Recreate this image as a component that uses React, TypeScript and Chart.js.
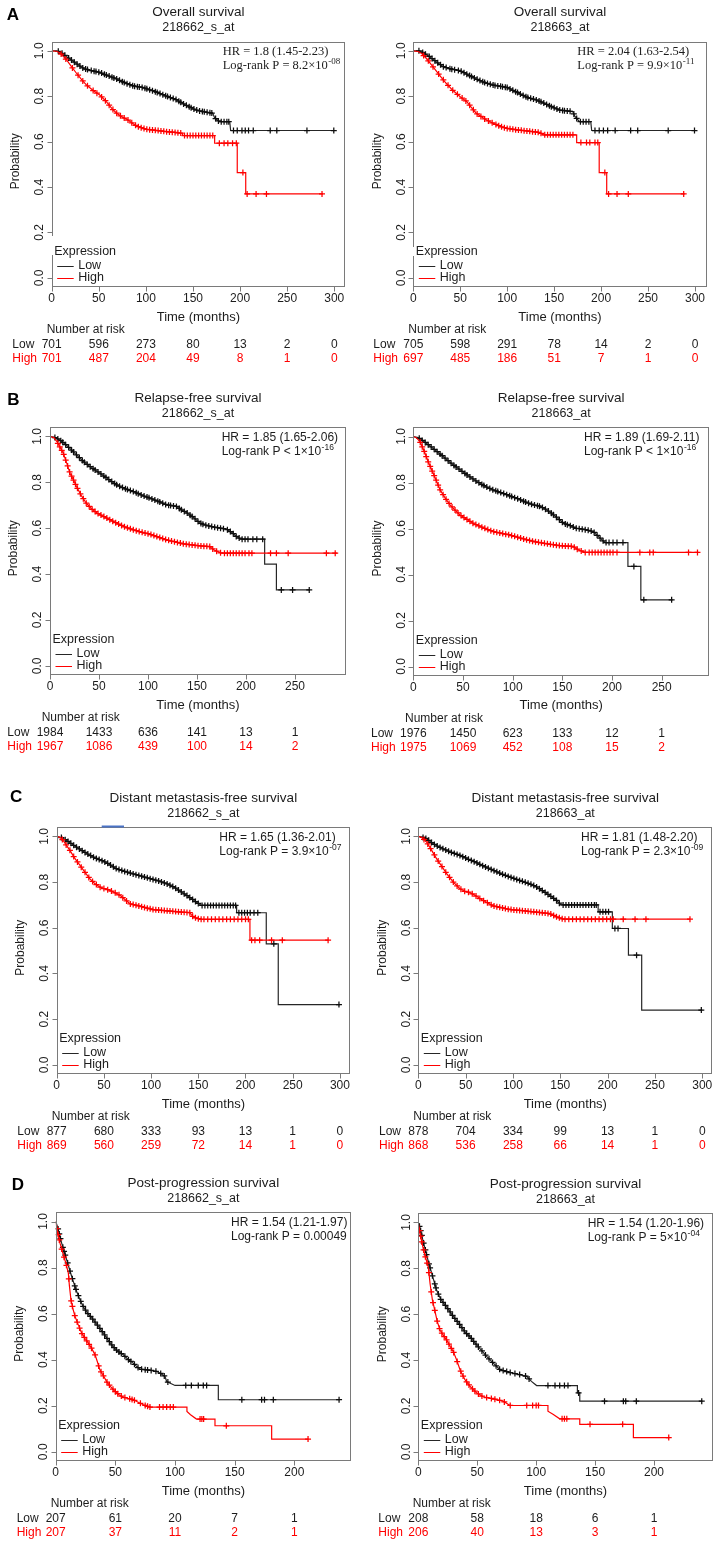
import React, { useEffect, useRef } from "react";
import { Chart, registerables } from "chart.js";

Chart.register(...registerables);

const SANS = '"Liberation Sans", Arial, Helvetica, sans-serif';
const SERIF = '"Liberation Serif", "Times New Roman", Times, serif';
const LOW_LINE = "#262626";
const LOW_MARK = "#0d0d0d";
const HIGH_COL = "#ff0000";
const AXIS_COL = "#7a7a7a";
const TEXT_COL = "#1c1c1c";

// ---------- axis / table labels ----------
const yTickValues = [0, 0.2, 0.4, 0.6, 0.8, 1.0];
const yTickLabels = ["0.0", "0.2", "0.4", "0.6", "0.8", "1.0"];
const xTicks300 = [0, 50, 100, 150, 200, 250, 300];
const xTicks250 = [0, 50, 100, 150, 200, 250];
const xTicks200 = [0, 50, 100, 150, 200];
const groupLabels = ["Low", "High"];

// ---------- number at risk ----------
const os1RiskLow = [701, 596, 273, 80, 13, 2, 0];
const os1RiskHigh = [701, 487, 204, 49, 8, 1, 0];
const os2RiskLow = [705, 598, 291, 78, 14, 2, 0];
const os2RiskHigh = [697, 485, 186, 51, 7, 1, 0];
const rfs1RiskLow = [1984, 1433, 636, 141, 13, 1];
const rfs1RiskHigh = [1967, 1086, 439, 100, 14, 2];
const rfs2RiskLow = [1976, 1450, 623, 133, 12, 1];
const rfs2RiskHigh = [1975, 1069, 452, 108, 15, 2];
const dmfs1RiskLow = [877, 680, 333, 93, 13, 1, 0];
const dmfs1RiskHigh = [869, 560, 259, 72, 14, 1, 0];
const dmfs2RiskLow = [878, 704, 334, 99, 13, 1, 0];
const dmfs2RiskHigh = [868, 536, 258, 66, 14, 1, 0];
const pps1RiskLow = [207, 61, 20, 7, 1];
const pps1RiskHigh = [207, 37, 11, 2, 1];
const pps2RiskLow = [208, 58, 18, 6, 1];
const pps2RiskHigh = [206, 40, 13, 3, 1];

// ---------- survival curves [months, probability] ----------
const os1Low = [[0,1],[5,1],[9,0.995],[16,0.974],[26,0.944],[34,0.922],[42,0.913],[51,0.905],[60,0.89],[69,0.876],[78,0.858],[87,0.845],[97,0.838],[110,0.82],[122,0.8],[132,0.785],[140,0.766],[150,0.745],[157,0.735],[171,0.725],[173,0.705],[178,0.688],[189,0.688],[190,0.649],[300,0.649]];
const os1LowCens = [7,11,14,18,21,24,27,30,33,36,38,42,45,47,50,53,56,58,61,64,66,69,72,75,77,80,83,86,88,91,93,96,99,101,104,107,110,112,115,118,121,123,126,129,132,135,137,140,143,146,148,151,154,157,160,162,165,168,170,174,177,180,183,186,188,193,197,202,205.5,209,214,232,239,271,299.5];
const os1High = [[0,1],[5,0.998],[9,0.99],[16,0.959],[21,0.93],[26.5,0.9],[32,0.872],[37,0.849],[44,0.825],[51,0.805],[58,0.776],[64,0.745],[69,0.725],[75,0.708],[80,0.698],[86,0.68],[90,0.669],[96,0.66],[101,0.654],[110,0.65],[122,0.644],[139,0.637],[139,0.627],[173,0.627],[173,0.593],[197,0.593],[197,0.464],[206,0.464],[206,0.37],[288,0.37]];
const os1HighCens = [10,15,22,28,33,38,44,48,53,57,61,65,69,73,77,81,85,89,92,95,98,101,104,107,110,113,116,119,122,125,128,131,134,137,141,144,147,150,153,156,159,162,165,168,171,178,183,187,192,196,203,207.5,217,228,287];

const os2Low = [[0,1],[6,1],[10,0.993],[17,0.975],[25,0.95],[32,0.93],[40,0.92],[50,0.912],[58,0.895],[67,0.876],[76,0.86],[85,0.849],[95,0.842],[100,0.838],[110,0.818],[121,0.795],[130,0.785],[138,0.772],[148,0.752],[156,0.739],[170,0.732],[172,0.712],[177,0.688],[189,0.688],[190,0.649],[300,0.649]];
const os2LowCens = [6,10,13,17,20,23,26,29,32,35,39,41,44,48,51,54,57,60,62,65,68,71,74,76,79,82,85,87,90,93,95,98,100,103,106,109,111,114,117,120,122,125,128,131,134,136,139,142,145,147,150,153,156,159,161,164,167,171,174,178,181,184,187,193.5,198,202.5,207,215,231.5,239,271.5,299.5];
const os2High = [[0,1],[5,0.997],[9,0.988],[14,0.966],[20,0.935],[25,0.908],[30,0.882],[35,0.857],[42,0.826],[50,0.798],[57,0.776],[62,0.75],[67,0.725],[73,0.708],[78,0.695],[84,0.683],[89,0.674],[94,0.665],[99,0.659],[110,0.652],[121,0.647],[135,0.64],[138,0.63],[174,0.63],[174,0.596],[198,0.596],[198,0.464],[206,0.464],[206,0.37],[289,0.37]];
const os2HighCens = [11,16,21,27,32,37,42,47,52,56,60,64,68,72,76,80,84,88,91,94,97,100,103,106,109,112,115,118,121,124,127,130,133,136,140,143,146,149,152,155,158,161,164,167,170,178.5,184.5,188,193.5,196.5,204,208,217,229,288];

const rfs1Low = [[0,1],[4,0.997],[10,0.985],[15,0.968],[20,0.949],[27,0.92],[34,0.891],[42,0.865],[51,0.84],[60,0.812],[68,0.789],[76,0.773],[85,0.76],[93,0.745],[102,0.731],[110,0.718],[119,0.702],[129,0.695],[134,0.68],[140,0.666],[147,0.645],[153,0.622],[160,0.612],[167,0.605],[180,0.596],[186,0.58],[190,0.564],[195,0.552],[219,0.552],[219,0.443],[231,0.443],[231,0.331],[265,0.331]];
const rfs1LowCens = [5,8,11,13,16,19,22,24,27,30,33,35,38,41,44,46,49,52,55,57,60,63,66,68,71,74,77,79,82,85,88,90,93,96,99,101,104,107,110,112,115,118,121,123,126,129,132,134,137,140,143,145,148,151,154,156,159,162,165,168,171,174,177,181,184,187,190,193,196,199,202,207,211,217,236,247.5,264.5];
const rfs1High = [[0,1],[4,0.995],[7,0.978],[10,0.955],[13.6,0.927],[17,0.885],[20.4,0.84],[24,0.81],[27,0.782],[32,0.742],[37,0.709],[42,0.686],[48,0.666],[53,0.655],[58,0.644],[63,0.633],[68,0.622],[76,0.606],[85,0.593],[93,0.583],[102,0.574],[110,0.562],[119,0.549],[128,0.54],[136,0.532],[145,0.527],[153,0.523],[163,0.52],[167,0.506],[171,0.498],[175,0.491],[293,0.491]];
const rfs1HighCens = [8,10,12,14,16,18,20,22,24,26,28,31,34,37,40,43,46,49,52,55,58,61,64,67,70,73,76,79,82,85,88,91,94,97,100,103,106,109,112,115,118,121,124,127,130,133,136,139,142,145,148,151,154,157,160,163,166,170,174,178,181,184,187,190,193,196,199,203,206,225,231,243,282,291];

const rfs2Low = [[0,1],[5,0.995],[13,0.971],[20,0.948],[30,0.913],[38,0.884],[47,0.855],[55,0.83],[64,0.804],[72,0.784],[80,0.768],[89,0.755],[97,0.742],[106,0.728],[114,0.713],[121,0.703],[128,0.696],[133,0.684],[138,0.67],[145,0.646],[151,0.623],[158,0.612],[164,0.601],[172,0.596],[181,0.587],[188,0.558],[193,0.539],[216,0.539],[216,0.435],[229,0.435],[229,0.29],[261,0.29]];
const rfs2LowCens = [6,9,12,15,18,21,24,27,29,32,35,38,41,43,46,49,52,54,57,60,63,66,69,71,74,77,80,83,85,88,91,94,97,99,102,105,108,111,113,116,119,122,125,127,130,133,136,139,141,144,147,150,153,155,158,161,164,167,170,173,176,179,182,185,188,191,194,197,201,205,211,222,232,260];
const rfs2High = [[0,1],[3,0.995],[6.7,0.978],[9,0.955],[11.7,0.928],[15,0.89],[18.5,0.855],[23,0.81],[27,0.768],[32,0.733],[37,0.703],[42,0.68],[47,0.659],[53,0.642],[60,0.623],[70,0.604],[80,0.587],[89,0.579],[97,0.572],[106,0.561],[114,0.551],[122,0.543],[131,0.536],[140,0.53],[148,0.525],[161,0.522],[166,0.507],[173,0.496],[287,0.496]];
const rfs2HighCens = [7,9,11,13,15,17,19,21,23,25,27,30,33,36,39,42,45,48,51,54,57,60,63,66,69,72,75,78,81,84,87,90,93,96,99,102,105,108,111,114,117,120,123,126,129,132,135,138,141,144,147,150,153,156,159,162,165,169,173,177,180,183,186,189,192,195,198,201,205,228,238,241.5,277,286];

const dmfs1Low = [[0,1],[5,0.995],[10.6,0.982],[16,0.967],[21,0.953],[30,0.93],[39,0.909],[46,0.897],[53,0.885],[58,0.872],[63.5,0.858],[72,0.847],[81,0.836],[90,0.826],[99,0.815],[108,0.805],[116.5,0.793],[122,0.783],[127,0.771],[132,0.757],[137.6,0.742],[143,0.727],[148,0.712],[153.5,0.698],[190.6,0.698],[190.6,0.666],[222,0.666],[222,0.53],[234.7,0.53],[234.7,0.264],[300,0.264]];
const dmfs1LowCens = [5,9,12,15,18,21,24,27,30,33,36,39,42,45,48,51,54,57,60,63,66,69,72,75,78,81,84,87,90,93,96,99,102,105,108,111,114,117,120,123,126,129,132,135,138,141,144,147,150,154,157,160,163,166,169,172,175,178,181,184,187,189.5,193,196,199,202,205,209,213,230,299];
const dmfs1High = [[0,1],[4,0.995],[7,0.982],[10,0.963],[14,0.939],[19,0.905],[24.7,0.873],[30,0.843],[35,0.815],[40,0.795],[46,0.778],[51,0.77],[56.5,0.764],[62,0.753],[67,0.742],[72,0.725],[77.6,0.705],[88,0.695],[95,0.687],[102,0.68],[112,0.676],[123.5,0.672],[141,0.666],[144.7,0.647],[150,0.64],[153.5,0.637],[204.7,0.637],[204.7,0.546],[287.6,0.546]];
const dmfs1HighCens = [6,10,14,18,22,26,30,34,38,42,46,50,54,58,62,66,70,74,78,81,84,87,90,93,96,99,102,105,108,111,114,117,120,123,126,129,132,135,138,141,144,147,150,153,156,160,164,168,172,176,180,184,188,192,196,200,203,206.5,210,215,227.6,239,287.5];

const dmfs2Low = [[0,1],[4,0.997],[8.8,0.99],[15,0.97],[20,0.958],[26,0.946],[35,0.93],[44,0.917],[53,0.9],[61.6,0.885],[70,0.868],[79,0.852],[88,0.836],[97,0.822],[105,0.81],[114,0.798],[120,0.789],[125,0.779],[130,0.766],[135.6,0.75],[141,0.735],[146,0.72],[151,0.7],[190,0.7],[190,0.67],[205,0.67],[205,0.597],[222,0.597],[222,0.48],[236,0.48],[236,0.24],[300,0.24]];
const dmfs2LowCens = [5,8,11,14,17,20,23,26,29,32,35,38,41,44,47,50,53,56,59,62,65,68,71,74,77,80,83,86,89,92,95,98,101,104,107,110,113,116,119,122,125,128,131,134,137,140,143,146,149,153,156,159,162,165,168,171,174,177,180,183,186,188,192,195,198,201,207.7,211,230.6,299];
const dmfs2High = [[0,1],[4,0.995],[8.8,0.975],[14,0.94],[19.4,0.902],[25,0.868],[30,0.837],[37,0.8],[44,0.771],[49,0.76],[54.6,0.754],[60,0.742],[65,0.728],[72,0.712],[79,0.696],[88,0.688],[97,0.68],[110,0.675],[121.5,0.67],[139,0.662],[146,0.648],[153,0.638],[287,0.638]];
const dmfs2HighCens = [6,10,13,17,21,25,29,33,37,41,45,49,53,57,61,65,69,73,77,80,83,86,89,92,95,98,101,104,107,110,113,116,119,122,125,128,131,134,137,140,143,146,149,152,155,159,163,167,171,175,179,183,187,191,195,199,203,206,216.5,229,240.5,287];

const pps1Low = [[0,1],[1,0.985],[2.2,0.964],[3.5,0.935],[5,0.906],[7,0.87],[9.2,0.834],[11.3,0.797],[13.4,0.761],[15.5,0.728],[17.6,0.696],[20,0.665],[23,0.631],[27,0.6],[31.6,0.573],[36,0.543],[40,0.515],[44,0.485],[48,0.457],[52,0.437],[56.7,0.421],[61,0.4],[65,0.385],[68,0.37],[70.7,0.359],[78,0.355],[84.6,0.349],[88,0.34],[91.6,0.327],[93,0.305],[100,0.288],[136.3,0.288],[136.3,0.226],[238,0.226]];
const pps1LowCens = [2,3,4,6,7,8,10,12,14,16,17,19,21,23,25,27,29,31,33,35,37,39,41,43,45,47,49,51,53,55,58,61,63,66,69,72,75,77,80,84,88,91,94,109,113.7,119.5,123.7,126.5,156,172.6,175,182.4,237.5];
const pps1High = [[0,1],[1.4,0.957],[3.6,0.906],[6.4,0.855],[8.5,0.82],[10.6,0.776],[11.5,0.72],[12.8,0.66],[14.5,0.62],[16.2,0.588],[19,0.55],[21.8,0.515],[24.5,0.493],[27.4,0.472],[30,0.45],[33,0.421],[35,0.39],[37,0.356],[40,0.33],[42.7,0.305],[46,0.283],[49.7,0.262],[53,0.248],[56.7,0.237],[65,0.226],[70,0.213],[73.5,0.204],[79,0.194],[110,0.194],[110,0.175],[113,0.161],[118,0.142],[133.5,0.142],[133.5,0.113],[181,0.113],[181,0.055],[211.7,0.055]];
const pps1HighCens = [1,2,3,5,7,9,11,13,14,16,18,20,22,24,26,28,30,33,36,38,40,43,45,48,50,52,55,58,62,64,66,71,75,77,79,87,90,93,96,98.6,121,122.5,124,143,211.5];

const pps2Low = [[0,1],[1,0.983],[2.5,0.955],[4,0.92],[5.5,0.89],[7,0.86],[9,0.82],[11,0.785],[13,0.75],[15.6,0.704],[19,0.665],[24,0.632],[29,0.595],[35.4,0.553],[40,0.52],[43.8,0.502],[49.5,0.466],[54,0.44],[58,0.416],[63,0.39],[69.3,0.358],[77.8,0.346],[85,0.338],[92,0.329],[96,0.307],[100.4,0.289],[135,0.289],[135,0.257],[137,0.257],[137,0.221],[241,0.221]];
const pps2LowCens = [1,2,3,4.5,6,7,9,10,12,14,15,17,19,21,23,25,27,29,31,33,35,37,39,41,43,45,47,49,51,54,57,60,63,66,69,72,75,78,82,86,91,94,110,116,120,124,127,136,158,174,176,185,240.5];
const pps2High = [[0,1],[1,0.965],[2.8,0.92],[4,0.89],[5.7,0.856],[8.5,0.805],[10,0.733],[12,0.661],[14,0.617],[16,0.57],[18.4,0.531],[21,0.51],[24,0.488],[27,0.46],[29.7,0.437],[32.5,0.401],[35.4,0.358],[37.5,0.335],[39.6,0.315],[43.8,0.286],[49.5,0.257],[55,0.24],[63.6,0.231],[72,0.221],[77.8,0.202],[110,0.202],[110,0.177],[114.6,0.163],[120,0.144],[137,0.144],[137,0.12],[182.5,0.12],[182.5,0.062],[213,0.062]];
const pps2HighCens = [1,2,3,4.5,6,7.5,9,11,12.5,14,16,18,20,22,24,26,28,30,33,36,38,41,43,46,48,51,54,58,62,65,69,73,78,92,97,100,102,122,124,126,145.7,173.4,212.5];

// ---------- panel set-up (positions in page pixels) ----------
const PANELS = [
  { col: 0, rowTop: 0, rowH: 388, box: { l: 51.7, r: 345, t: 41.7, b: 287 }, xMax: 311.4, xTicks: xTicks300,
    title: "Overall survival", sub: "218662_s_at", hr: "HR = 1.8 (1.45-2.23)", lr: "Log-rank P = 8.2\u00d710", sup: "-08", serif: true,
    hrX: 222.7, riskLabelX: 46.7, groupX: 12.3, letter: { t: "A", x: 6.7, y: 15 }, gap: [236, 255],
    low: os1Low, high: os1High, lowCens: os1LowCens, highCens: os1HighCens, riskLow: os1RiskLow, riskHigh: os1RiskHigh },
  { col: 1, rowTop: 0, rowH: 388, box: { l: 413.3, r: 706.7, t: 41.7, b: 287 }, xMax: 312.5, xTicks: xTicks300,
    title: "Overall survival", sub: "218663_at", hr: "HR = 2.04 (1.63-2.54)", lr: "Log-rank P = 9.9\u00d710", sup: "-11", serif: true,
    hrX: 577.3, riskLabelX: 408.3, groupX: 373.3, letter: null, gap: [247, 256],
    low: os2Low, high: os2High, lowCens: os2LowCens, highCens: os2HighCens, riskLow: os2RiskLow, riskHigh: os2RiskHigh },
  { col: 0, rowTop: 388, rowH: 387, box: { l: 50, r: 346, t: 427.3, b: 675 }, xMax: 302, xTicks: xTicks250,
    title: "Relapse-free survival", sub: "218662_s_at", hr: "HR = 1.85 (1.65-2.06)", lr: "Log-rank P < 1\u00d710", sup: "-16", serif: false,
    hrX: 221.7, riskLabelX: 41.7, groupX: 7.3, letter: { t: "B", x: 7.3, y: 400.7 },
    low: rfs1Low, high: rfs1High, lowCens: rfs1LowCens, highCens: rfs1HighCens, riskLow: rfs1RiskLow, riskHigh: rfs1RiskHigh },
  { col: 1, rowTop: 388, rowH: 387, box: { l: 413.3, r: 709, t: 427.3, b: 675.7 }, xMax: 297.6, xTicks: xTicks250,
    title: "Relapse-free survival", sub: "218663_at", hr: "HR = 1.89 (1.69-2.11)", lr: "Log-rank P < 1\u00d710", sup: "-16", serif: false,
    hrX: 584, riskLabelX: 405, groupX: 371, letter: null,
    low: rfs2Low, high: rfs2High, lowCens: rfs2LowCens, highCens: rfs2HighCens, riskLow: rfs2RiskLow, riskHigh: rfs2RiskHigh },
  { col: 0, rowTop: 775, rowH: 385, box: { l: 56.7, r: 350, t: 827.3, b: 1074 }, xMax: 310.7, xTicks: xTicks300,
    title: "Distant metastasis-free survival", sub: "218662_s_at", hr: "HR = 1.65 (1.36-2.01)", lr: "Log-rank P = 3.9\u00d710", sup: "-07", serif: false,
    hrX: 219.3, riskLabelX: 51.7, groupX: 17.3, letter: { t: "C", x: 10, y: 797.7 }, blue: { x1: 101.7, x2: 124, y: 826.5 },
    low: dmfs1Low, high: dmfs1High, lowCens: dmfs1LowCens, highCens: dmfs1HighCens, riskLow: dmfs1RiskLow, riskHigh: dmfs1RiskHigh },
  { col: 1, rowTop: 775, rowH: 385, box: { l: 418.3, r: 712.3, t: 827.3, b: 1074 }, xMax: 310.6, xTicks: xTicks300,
    title: "Distant metastasis-free survival", sub: "218663_at", hr: "HR = 1.81 (1.48-2.20)", lr: "Log-rank P = 2.3\u00d710", sup: "-09", serif: false,
    hrX: 581, riskLabelX: 413.3, groupX: 379, letter: null,
    low: dmfs2Low, high: dmfs2High, lowCens: dmfs2LowCens, highCens: dmfs2HighCens, riskLow: dmfs2RiskLow, riskHigh: dmfs2RiskHigh },
  { col: 0, rowTop: 1160, rowH: 387, box: { l: 55.7, r: 351, t: 1212.3, b: 1461 }, xMax: 247.5, xTicks: xTicks200,
    title: "Post-progression survival", sub: "218662_s_at", hr: "HR = 1.54 (1.21-1.97)", lr: "Log-rank P = 0.00049", sup: "", serif: false,
    hrX: 231, riskLabelX: 50.7, groupX: 16.7, letter: { t: "D", x: 11.7, y: 1185 },
    low: pps1Low, high: pps1High, lowCens: pps1LowCens, highCens: pps1HighCens, riskLow: pps1RiskLow, riskHigh: pps1RiskHigh },
  { col: 1, rowTop: 1160, rowH: 387, box: { l: 418.3, r: 712.7, t: 1213.3, b: 1461 }, xMax: 249.8, xTicks: xTicks200,
    title: "Post-progression survival", sub: "218663_at", hr: "HR = 1.54 (1.20-1.96)", lr: "Log-rank P = 5\u00d710", sup: "-04", serif: false,
    hrX: 587.7, riskLabelX: 412.7, groupX: 378.3, letter: null,
    low: pps2Low, high: pps2High, lowCens: pps2LowCens, highCens: pps2HighCens, riskLow: pps2RiskLow, riskHigh: pps2RiskHigh },
];

// place a censoring mark on its curve
function survivalAt(curve: number[][], t: number): number {
  for (let i = 0; i < curve.length - 1; i++) {
    const x0 = curve[i][0], y0 = curve[i][1];
    const x1 = curve[i + 1][0], y1 = curve[i + 1][1];
    if (x1 > x0 && t >= x0 && t <= x1) return y0 + ((y1 - y0) * (t - x0)) / (x1 - x0);
  }
  return curve[curve.length - 1][1];
}

function drawDecor(chart: any, p: any) {
  const ctx = chart.ctx;
  const xs = chart.scales.x;
  const ys = chart.scales.y;
  const { left, right, top, bottom } = chart.chartArea;
  const ox = p.col * 360;
  const oy = p.rowTop;
  const sans = (s: number) => `${s}px ${SANS}`;
  ctx.save();

  // frame + ticks
  const bl = Math.round(left) + 0.5;
  const bt = Math.round(top) + 0.5;
  const br = Math.round(right) - 0.5;
  const bb = Math.round(bottom) - 0.5;
  ctx.strokeStyle = AXIS_COL;
  ctx.lineWidth = 1;
  ctx.strokeRect(bl, bt, br - bl, bb - bt);
  ctx.beginPath();
  p.xTicks.forEach((t: number) => {
    const px = Math.round(xs.getPixelForValue(t)) + 0.5;
    ctx.moveTo(px, bb);
    ctx.lineTo(px, bb + 5);
  });
  yTickValues.forEach((v) => {
    const py = Math.round(ys.getPixelForValue(v)) + 0.5;
    ctx.moveTo(bl, py);
    ctx.lineTo(bl - 5, py);
  });
  ctx.stroke();
  if (p.gap) {
    ctx.fillStyle = "#fff";
    ctx.fillRect(bl - 1, p.gap[0] - oy, 2.5, p.gap[1] - p.gap[0]);
  }

  if (p.blue) {
    ctx.strokeStyle = "#4a73c6";
    ctx.lineWidth = 2;
    ctx.beginPath();
    ctx.moveTo(p.blue.x1 - ox, p.blue.y - oy);
    ctx.lineTo(p.blue.x2 - ox, p.blue.y - oy);
    ctx.stroke();
  }

  ctx.fillStyle = TEXT_COL;
  ctx.textBaseline = "middle";

  // x tick labels
  ctx.font = sans(12);
  ctx.textAlign = "center";
  p.xTicks.forEach((t: number) => {
    ctx.fillText(String(t), xs.getPixelForValue(t), bottom + 12);
  });
  // y tick labels (rotated, R style)
  yTickValues.forEach((v, i) => {
    ctx.save();
    ctx.translate(left - 12, ys.getPixelForValue(v));
    ctx.rotate(-Math.PI / 2);
    ctx.fillText(yTickLabels[i], 0, 0);
    ctx.restore();
  });
  // axis titles
  const cx = (left + right) / 2;
  ctx.font = sans(13);
  ctx.fillText("Time (months)", cx, bottom + 30);
  ctx.save();
  ctx.font = sans(12);
  ctx.translate(left - 36, (top + bottom) / 2 - 3);
  ctx.rotate(-Math.PI / 2);
  ctx.fillText("Probability", 0, 0);
  ctx.restore();

  // main title
  ctx.font = sans(13.5);
  ctx.fillText(p.title, cx, top - 29);
  ctx.font = sans(12.5);
  ctx.fillText(p.sub, cx, top - 14);

  // HR / log-rank
  ctx.textAlign = "left";
  const fam = p.serif ? SERIF : SANS;
  const mainSize = p.serif ? 12.5 : 12;
  ctx.font = `${mainSize}px ${fam}`;
  const hx = p.hrX - ox;
  ctx.fillText(p.hr, hx, top + 10);
  ctx.fillText(p.lr, hx, top + 24);
  if (p.sup) {
    const w = ctx.measureText(p.lr).width;
    ctx.font = `${p.serif ? 9 : 8.5}px ${fam}`;
    ctx.fillText(p.sup, hx + w + 0.5, top + 20);
  }

  // legend
  const lx = left + 2.5;
  ctx.font = sans(12.5);
  ctx.fillText("Expression", lx, bottom - 35);
  ctx.lineWidth = 1;
  [LOW_LINE, HIGH_COL].forEach((col, i) => {
    const y = bottom - 21 + i * 12;
    ctx.strokeStyle = col;
    ctx.beginPath();
    ctx.moveTo(lx + 3, Math.round(y) + 0.5);
    ctx.lineTo(lx + 19.5, Math.round(y) + 0.5);
    ctx.stroke();
    ctx.fillStyle = TEXT_COL;
    ctx.fillText(groupLabels[i], lx + 24, y);
  });

  // number at risk table
  ctx.font = sans(12);
  ctx.fillStyle = TEXT_COL;
  ctx.textAlign = "left";
  ctx.fillText("Number at risk", p.riskLabelX - ox, bottom + 43);
  const rows = [p.riskLow, p.riskHigh];
  rows.forEach((vals: number[], r: number) => {
    const y = bottom + 57.5 + r * 14.5;
    ctx.fillStyle = r === 0 ? TEXT_COL : HIGH_COL;
    ctx.textAlign = "left";
    ctx.fillText(groupLabels[r], p.groupX - ox, y);
    ctx.textAlign = "center";
    vals.forEach((v, k) => {
      ctx.fillText(String(v), xs.getPixelForValue(p.xTicks[k]), y);
    });
  });

  // panel letter
  if (p.letter) {
    ctx.fillStyle = "#000";
    ctx.font = `bold 17px ${SANS}`;
    ctx.textAlign = "left";
    ctx.fillText(p.letter.t, p.letter.x - ox, p.letter.y - oy);
  }
  ctx.restore();
}

function KMPanel({ p }: { p: any }) {
  const ref = useRef<HTMLCanvasElement | null>(null);
  useEffect(() => {
    const canvas = ref.current;
    if (!canvas) return;
    const ox = p.col * 360;
    const oy = p.rowTop;
    const toPts = (c: number[][]) => c.map((d) => ({ x: d[0], y: d[1] }));
    const marks = (curve: number[][], ts: number[]) => ts.map((t) => ({ x: t, y: survivalAt(curve, t) }));
    const decor = {
      id: "kmDecor",
      afterDraw(chart: any) {
        drawDecor(chart, p);
      },
    };
    const chart = new Chart(canvas, {
      type: "scatter",
      data: {
        datasets: [
          { data: toPts(p.low), showLine: true, borderColor: LOW_LINE, borderWidth: 1.2, pointRadius: 0, tension: 0, fill: false, order: 4 },
          { data: marks(p.low, p.lowCens), showLine: false, pointStyle: "cross", pointRadius: 3, pointBorderWidth: 1.25, borderColor: LOW_MARK, backgroundColor: LOW_MARK, order: 3 },
          { data: toPts(p.high), showLine: true, borderColor: HIGH_COL, borderWidth: 1.2, pointRadius: 0, tension: 0, fill: false, order: 2 },
          { data: marks(p.high, p.highCens), showLine: false, pointStyle: "cross", pointRadius: 3, pointBorderWidth: 1.25, borderColor: HIGH_COL, backgroundColor: HIGH_COL, order: 1 },
        ],
      } as any,
      options: {
        animation: false,
        responsive: false,
        devicePixelRatio: 1,
        events: [],
        layout: {
          padding: {
            left: p.box.l - ox,
            right: ox + 360 - p.box.r,
            top: p.box.t - oy,
            bottom: oy + p.rowH - p.box.b,
          },
        },
        scales: {
          x: { type: "linear", min: 0, max: p.xMax, display: false },
          y: { type: "linear", min: -0.04, max: 1.04, display: false },
        },
        plugins: { legend: { display: false }, tooltip: { enabled: false }, title: { display: false } },
      } as any,
      plugins: [decor],
    });
    return () => chart.destroy();
  }, [p]);
  return (
    <canvas
      ref={ref}
      width={360}
      height={p.rowH}
      style={{ position: "absolute", left: p.col * 360, top: p.rowTop, width: 360, height: p.rowH, display: "block" }}
    />
  );
}

export default function App() {
  return (
    <div style={{ position: "absolute", left: 0, top: 0, width: 720, height: 1547, background: "#fff", overflow: "hidden" }}>
      {PANELS.map((p, i) => (
        <KMPanel key={i} p={p} />
      ))}
    </div>
  );
}
